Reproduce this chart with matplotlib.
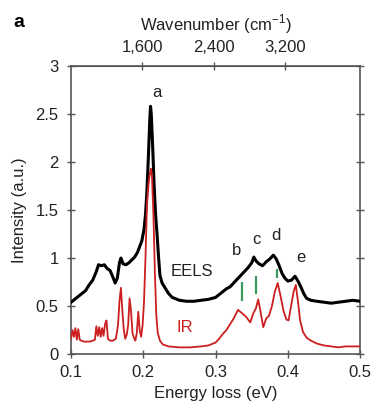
import numpy as np
import matplotlib
matplotlib.use("Agg")
from matplotlib import pyplot as plt

plt.rcParams["font.family"] = ["Liberation Sans", "DejaVu Sans"]
plt.rcParams["mathtext.fontset"] = "custom"
plt.rcParams["mathtext.rm"] = "Liberation Sans"

# EELS spectrum (energy loss in eV, intensity in a.u.)
eels_energy = [0.100, 0.105, 0.110, 0.115, 0.120, 0.125, 0.130, 0.135, 0.138, 0.142,
               0.146, 0.150, 0.154, 0.158, 0.161, 0.164, 0.167, 0.169, 0.172, 0.176,
               0.180, 0.184, 0.188, 0.192, 0.195, 0.198, 0.201, 0.203, 0.205, 0.207,
               0.209, 0.210, 0.211, 0.213, 0.215, 0.217, 0.219, 0.221, 0.223, 0.226,
               0.230, 0.235, 0.240, 0.250, 0.260, 0.270, 0.280, 0.290, 0.300, 0.305,
               0.310, 0.315, 0.320, 0.325, 0.330, 0.335, 0.340, 0.345, 0.350, 0.353,
               0.356, 0.360, 0.365, 0.370, 0.375, 0.380, 0.384, 0.388, 0.392, 0.396,
               0.400, 0.405, 0.410, 0.414, 0.418, 0.422, 0.426, 0.432, 0.440, 0.450,
               0.460, 0.470, 0.480, 0.490, 0.500]
eels_intensity = [0.54, 0.57, 0.60, 0.63, 0.66, 0.72, 0.77, 0.86, 0.93, 0.92,
                  0.93, 0.89, 0.87, 0.80, 0.74, 0.79, 0.95, 1.00, 0.94, 0.93,
                  0.95, 0.98, 1.01, 1.06, 1.12, 1.18, 1.30, 1.45, 1.70, 2.05,
                  2.45, 2.58, 2.50, 2.15, 1.75, 1.45, 1.25, 1.02, 0.82, 0.74,
                  0.69, 0.63, 0.59, 0.56, 0.55, 0.55, 0.56, 0.57, 0.59, 0.62,
                  0.65, 0.68, 0.70, 0.74, 0.78, 0.82, 0.86, 0.90, 0.95, 1.01,
                  0.97, 0.94, 0.92, 0.96, 0.99, 1.03, 0.99, 0.92, 0.84, 0.79,
                  0.76, 0.77, 0.81, 0.76, 0.70, 0.63, 0.58, 0.56, 0.55, 0.54,
                  0.53, 0.54, 0.55, 0.56, 0.55]

# IR absorption spectrum
ir_energy = [0.100, 0.102, 0.104, 0.106, 0.108, 0.110, 0.112, 0.114, 0.118, 0.122,
             0.126, 0.130, 0.133, 0.135, 0.137, 0.139, 0.141, 0.143, 0.145, 0.147,
             0.149, 0.151, 0.154, 0.158, 0.162, 0.165, 0.167, 0.169, 0.171, 0.173,
             0.175, 0.177, 0.179, 0.181, 0.183, 0.185, 0.187, 0.189, 0.191, 0.193,
             0.195, 0.197, 0.199, 0.201, 0.203, 0.205, 0.207, 0.209, 0.2105, 0.212,
             0.214, 0.216, 0.218, 0.220, 0.223, 0.227, 0.235, 0.250, 0.265, 0.280,
             0.290, 0.300, 0.305, 0.310, 0.315, 0.320, 0.325, 0.331, 0.336, 0.342,
             0.348, 0.352, 0.356, 0.359, 0.362, 0.366, 0.370, 0.374, 0.378, 0.382,
             0.386, 0.390, 0.394, 0.398, 0.401, 0.404, 0.408, 0.411, 0.414, 0.417,
             0.421, 0.426, 0.432, 0.440, 0.450, 0.460, 0.470, 0.480, 0.490, 0.500]
ir_intensity = [0.16, 0.25, 0.18, 0.27, 0.15, 0.26, 0.15, 0.14, 0.13, 0.13,
                0.13, 0.14, 0.15, 0.29, 0.19, 0.28, 0.18, 0.27, 0.19, 0.31,
                0.35, 0.16, 0.14, 0.14, 0.16, 0.30, 0.55, 0.69, 0.45, 0.25,
                0.16, 0.20, 0.30, 0.58, 0.45, 0.22, 0.17, 0.14, 0.22, 0.44,
                0.25, 0.18, 0.30, 0.55, 1.00, 1.55, 1.75, 1.88, 1.93, 1.85,
                1.45, 0.85, 0.40, 0.22, 0.14, 0.10, 0.08, 0.07, 0.07, 0.08,
                0.09, 0.12, 0.16, 0.21, 0.25, 0.31, 0.37, 0.46, 0.43, 0.39,
                0.33, 0.42, 0.48, 0.57, 0.45, 0.28, 0.37, 0.40, 0.50, 0.65,
                0.74, 0.60, 0.45, 0.36, 0.35, 0.48, 0.65, 0.72, 0.55, 0.35,
                0.23, 0.17, 0.14, 0.11, 0.09, 0.08, 0.07, 0.08, 0.08, 0.08]

# peak labels and their positions
peak_names = ["a", "b", "c", "d", "e"]
peak_x = [0.219, 0.329, 0.357, 0.384, 0.418]
peak_y = [2.72, 1.08, 1.19, 1.23, 1.01]

# green markers (x, y_low, y_high)
mark_x = [0.337, 0.356, 0.385]
mark_lo = [0.55, 0.63, 0.79]
mark_hi = [0.75, 0.81, 0.89]

wavenumber_ticks = [1600, 2400, 3200]
EV_TO_CM = 8065.54

FS = 12
TEXT = "#222222"

fig = plt.figure(figsize=(3.72, 4.07), dpi=100)
ax = fig.add_axes([0.191, 0.130, 0.777, 0.708])

ax.plot(eels_energy, eels_intensity, color="black", lw=2.2, zorder=3)
ax.plot(ir_energy, ir_intensity, color="#cc1f1f", lw=1.3, zorder=4)
ax.vlines(mark_x, mark_lo, mark_hi, color="#3c9a5c", lw=1.6, zorder=5)

for name, x, y in zip(peak_names, peak_x, peak_y):
    ax.text(x, y, name, ha="center", va="center", fontsize=FS, color=TEXT)
ax.text(0.267, 0.86, "EELS", ha="center", va="center", fontsize=FS, color=TEXT)
ax.text(0.258, 0.28, "IR", ha="center", va="center", fontsize=FS, color="#cc1f1f")

ax.set_xlim(0.1, 0.5)
ax.set_ylim(0, 3)
ax.set_xticks([0.1, 0.2, 0.3, 0.4, 0.5])
ax.set_xticklabels(["0.1", "0.2", "0.3", "0.4", "0.5"])
ax.set_yticks([0, 0.5, 1, 1.5, 2, 2.5, 3])
ax.set_yticklabels(["0", "0.5", "1", "1.5", "2", "2.5", "3"])
ax.set_xlabel("Energy loss (eV)", fontsize=FS, color=TEXT, labelpad=4)
ax.set_ylabel("Intensity (a.u.)", fontsize=FS, color=TEXT, labelpad=6)

spine_color = "#555555"
for s in ax.spines.values():
    s.set_color(spine_color)
    s.set_linewidth(1.2)
ax.tick_params(axis="both", direction="inout", length=6, width=1.0,
               color=spine_color, labelsize=FS, labelcolor=TEXT)
ax.tick_params(axis="x", pad=5)
ax.tick_params(axis="y", right=True, pad=6)

top = ax.secondary_xaxis("top", functions=(lambda e: e * EV_TO_CM,
                                           lambda w: w / EV_TO_CM))
top.set_xticks(wavenumber_ticks)
top.set_xticklabels(["1,600", "2,400", "3,200"])
top.tick_params(direction="inout", length=6, width=1.0, color=spine_color,
                labelsize=FS, labelcolor=TEXT, pad=5)
top.spines["top"].set_color(spine_color)
top.set_xlabel(r"Wavenumber (cm$^{-1}$)", fontsize=FS, color=TEXT, labelpad=7)

fig.text(0.035, 0.945, "a", fontsize=14, fontweight="bold", ha="left", va="center")

fig.savefig("out.png", dpi=100)
